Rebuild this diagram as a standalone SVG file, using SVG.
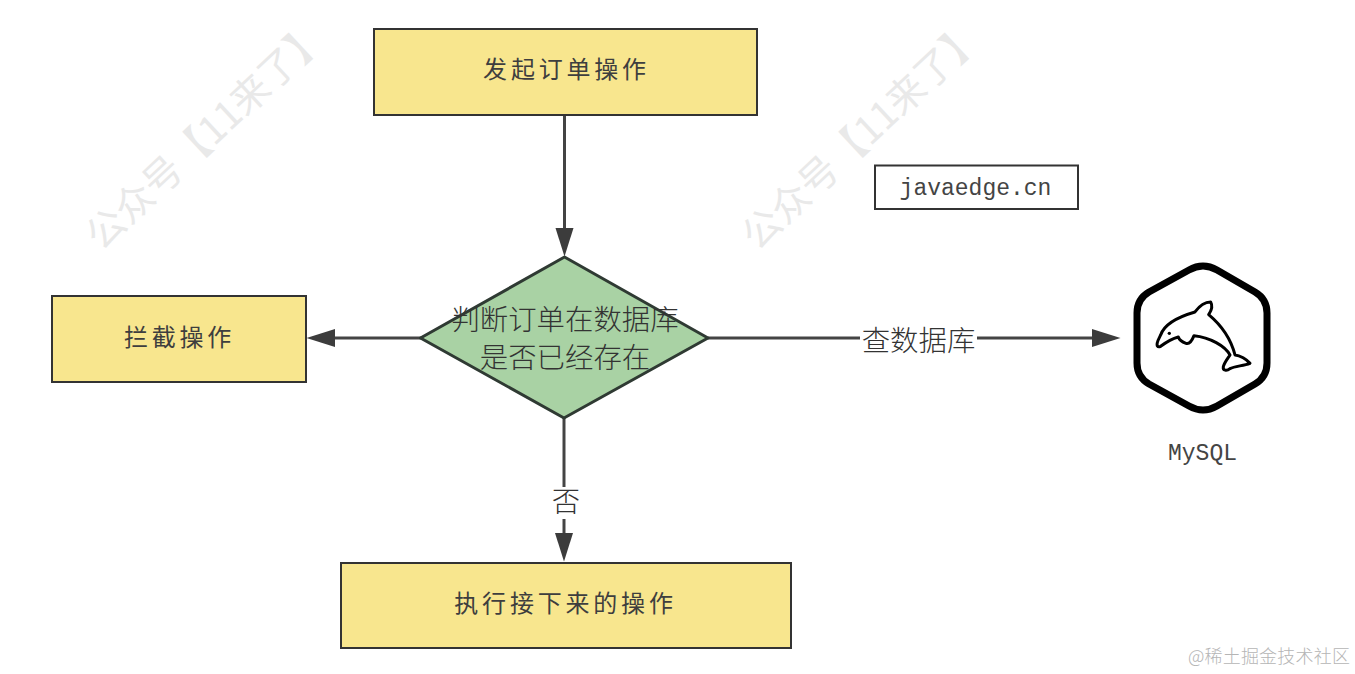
<svg xmlns="http://www.w3.org/2000/svg" width="1355" height="674" viewBox="0 0 1355 674">
<style>
text{font-family:"Noto Sans CJK SC","Noto Sans",sans-serif;text-anchor:middle}
.box{fill:#f8e68e;stroke:#333;stroke-width:2}
.kai{font-size:24px;fill:#3e3e3e;font-weight:400;letter-spacing:3.8px}
.dec{font-size:28.400px;fill:#333;font-weight:300}
.lab{font-size:28.400px;fill:#333;font-weight:300}
.mono{font-family:"Liberation Mono",monospace;font-size:23px;fill:#444}
.wm{font-size:38.500px;fill:#e9e9e9;font-weight:400}
.conn{fill:none;stroke:#444;stroke-width:3}
</style>
<defs>
<marker id="arrow" markerUnits="userSpaceOnUse" markerWidth="29" markerHeight="20" refX="0" refY="10" orient="auto">
<path d="M0 1L28.500 10L0 19Z" fill="#3c3c3c"/>
</marker>
</defs>
<rect width="1355" height="674" fill="#fff"/>
<g id="watermarks">
<text class="wm" transform="translate(206 135) rotate(-43)" y="14">公众号【11来了】</text>
<text class="wm" transform="translate(862 135) rotate(-43)" y="14">公众号【11来了】</text>
</g>
<g id="connectors">
<path class="conn" d="M564.500 115V228" marker-end="url(#arrow)"/>
<path class="conn" d="M421 338H335" marker-end="url(#arrow)"/>
<path class="conn" d="M708 338H1092" marker-end="url(#arrow)"/>
<path class="conn" d="M564 418V533" marker-end="url(#arrow)"/>
<rect x="860" y="322" width="117" height="36" fill="#fff"/>
<text class="lab" x="918.500" y="351">查数据库</text>
<rect x="550" y="487" width="30" height="32" fill="#fff"/>
<text class="lab" x="566" y="512">否</text>
</g>
<g id="start">
<rect class="box" x="374" y="29" width="383" height="86"/>
<text class="kai" x="566.500" y="78">发起订单操作</text>
</g>
<g id="block">
<rect class="box" x="52" y="296" width="254" height="86"/>
<text class="kai" x="179.500" y="346">拦截操作</text>
</g>
<g id="decision">
<path d="M420.500 338L564.500 257L708 338L564 418Z" fill="#a9d2a4" stroke="#2f3a33" stroke-width="3" stroke-linejoin="round"/>
<text class="dec" x="565" y="330">判断订单在数据库</text>
<text class="dec" x="565" y="368">是否已经存在</text>
</g>
<g id="next">
<rect class="box" x="341" y="563" width="450" height="85"/>
<text class="kai" x="565.500" y="612">执行接下来的操作</text>
</g>
<g id="site">
<rect x="875" y="165.500" width="203" height="43.500" fill="#fff" stroke="#333" stroke-width="2"/>
<text class="mono" x="975.500" y="195">javaedge.cn</text>
</g>
<g id="mysql">
<path d="M1189 270Q1203 262 1217 270L1255 292Q1267 299 1267 313V363Q1267 377 1255 384L1217 406Q1203 414 1189 406L1149 384Q1137 377 1137 363V313Q1137 299 1149 292Z" fill="#fff" stroke="#000" stroke-width="7" stroke-linejoin="round"/>
<g transform="translate(1100 240) scale(.3333)">
<path d="M172 318C168 308 176 298 182 285C192 255 230 232 285 216C298 198 316 186 332 186C338 196 334 212 326 224C362 254 392 294 405 345C420 346 440 358 450 370C430 378 405 378 390 386C380 394 368 392 370 380C374 366 386 352 390 345C376 318 330 292 282 287C276 302 268 314 258 310C246 306 238 300 235 291C216 296 194 310 182 319C178 321 174 321 172 318Z" fill="#fff" stroke="#000" stroke-width="9" stroke-linejoin="round"/>
<circle cx="208" cy="280" r="5" fill="#000"/>
</g>
<text class="mono" x="1202.500" y="460">MySQL</text>
</g>
<g id="footer">
<text x="1269" y="663" font-size="18" fill="#b5b5b5" font-weight="300" letter-spacing=".2">@稀土掘金技术社区</text>
</g>
</svg>
